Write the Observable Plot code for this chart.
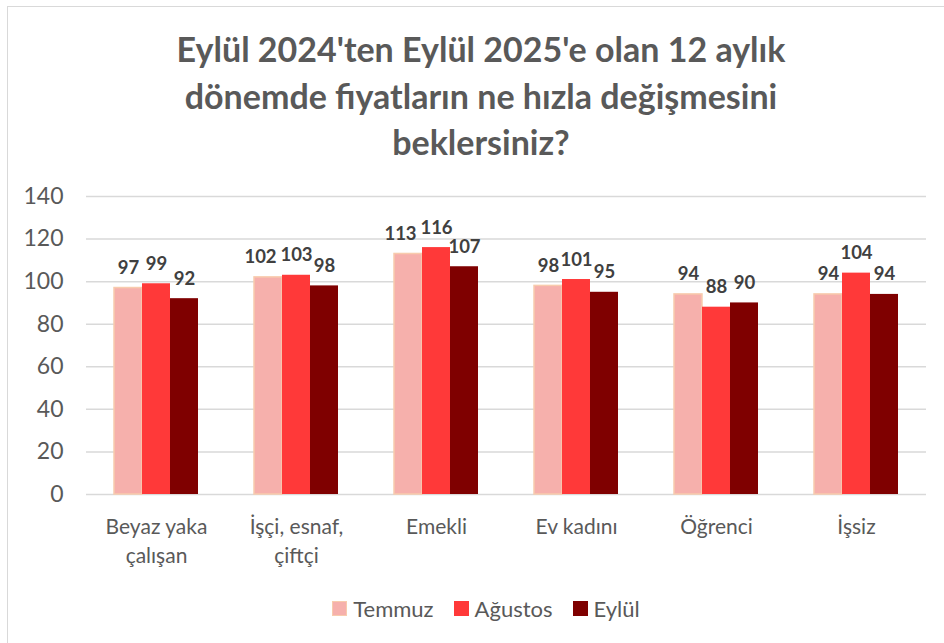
<!DOCTYPE html>
<html><head><meta charset="utf-8">
<script src="https://cdn.jsdelivr.net/npm/d3@7"></script>
<script src="https://cdn.jsdelivr.net/npm/@observablehq/plot@0.6"></script>
<style>
body{margin:0;background:#fff;}
#wrap{position:relative;width:944px;height:643px;overflow:hidden;font-family:Lato,"Open Sans",sans-serif;}
#frame{position:absolute;left:7px;top:6px;width:1000px;height:1000px;border-left:1.5px solid #d9d9d9;border-top:1.5px solid #d9d9d9;}
#title{position:absolute;top:26px;left:0;width:962px;text-align:center;font-weight:bold;font-size:34px;line-height:46.5px;color:#595959;}
#chart{position:absolute;left:0;top:170px;}
#legend{position:absolute;top:595px;left:0;width:972px;display:flex;justify-content:center;align-items:center;font-size:22px;color:#595959;height:26px;}
#legend .item{display:flex;align-items:center;margin:0 10px;}
#legend .sw{width:15px;height:15px;margin-right:6px;box-sizing:border-box;}
</style></head>
<body>
<div id="wrap">
<div id="frame"></div>
<div id="title">Eylül 2024'ten Eylül 2025'e olan 12 aylık<br>dönemde fiyatların ne hızla değişmesini<br>beklersiniz?</div>
<div id="chart"></div>
<div id="legend"></div>
</div>
<script>
const categories = ["Beyaz yaka\nçalışan", "İşçi, esnaf,\nçiftçi", "Emekli", "Ev kadını", "Öğrenci", "İşsiz"];
const series = ["Temmuz", "Ağustos", "Eylül"];
const temmuz = [97, 102, 113, 98, 94, 94];
const agustos = [99, 103, 116, 101, 88, 104];
const eylul = [92, 98, 107, 95, 90, 94];
const colors = ["#f6b0ac", "#ff3939", "#7f0000"];
const strokes = ["#f8cbad", "none", "none"];
const yTicks = [0, 20, 40, 60, 80, 100, 120, 140];

const valuesBySeries = [temmuz, agustos, eylul];
const data = [];
categories.forEach((c, i) => series.forEach((s, j) => data.push({
  cat: c, series: s, value: valuesBySeries[j][i],
  // Excel nudges a 3-digit Temmuz label left when its neighbour is also 3 digits
  nudge: j === 0 && temmuz[i] >= 100 && agustos[i] >= 100
})));

const labelFont = {lineAnchor: "bottom", dy: -14, fontSize: 18.5, fontWeight: "bold", fill: "#404040"};

const chart = Plot.plot({
  width: 944,
  height: 404,
  marginTop: 26,
  marginLeft: 85,
  marginRight: 18,
  marginBottom: 80,
  style: {fontFamily: 'Lato,"Open Sans",sans-serif', background: "transparent"},
  fx: {domain: categories, padding: 0, label: null, axis: null},
  x: {domain: series, paddingInner: 0, paddingOuter: 0.975, axis: null},
  y: {domain: [0, 140], axis: null},
  color: {domain: series, range: colors},
  marks: [
    Plot.gridY(yTicks, {stroke: "#d9d9d9", strokeOpacity: 1, strokeWidth: 1.5}),
    Plot.axisY(yTicks, {anchor: "left", facetAnchor: "left", tickSize: 0, tickPadding: 23, fontSize: 23, fill: "#595959", label: null}),
    Plot.axisFx({anchor: "bottom", tickSize: 0, tickPadding: 19, fontSize: 21, fill: "#595959", lineHeight: 1.38, label: null, lineAnchor: "top"}),
    Plot.barY(data, {fx: "cat", x: "series", y: "value", fill: "series", stroke: d => strokes[series.indexOf(d.series)], strokeWidth: 1.5, inset: 0}),
    Plot.text(data.filter(d => !d.nudge), {fx: "cat", x: "series", y: "value", text: d => String(d.value), ...labelFont}),
    Plot.text(data.filter(d => d.nudge), {fx: "cat", x: "series", y: "value", text: d => String(d.value), ...labelFont, dx: -8})
  ]
});
document.getElementById("chart").appendChild(chart);

const legend = document.getElementById("legend");
series.forEach((s, j) => {
  const item = document.createElement("div");
  item.className = "item";
  const sw = document.createElement("div");
  sw.className = "sw";
  sw.style.background = colors[j];
  if (strokes[j] !== "none") sw.style.border = "1.5px solid " + strokes[j];
  const t = document.createElement("span");
  t.textContent = s;
  item.appendChild(sw); item.appendChild(t);
  legend.appendChild(item);
});
</script>
</body></html>
